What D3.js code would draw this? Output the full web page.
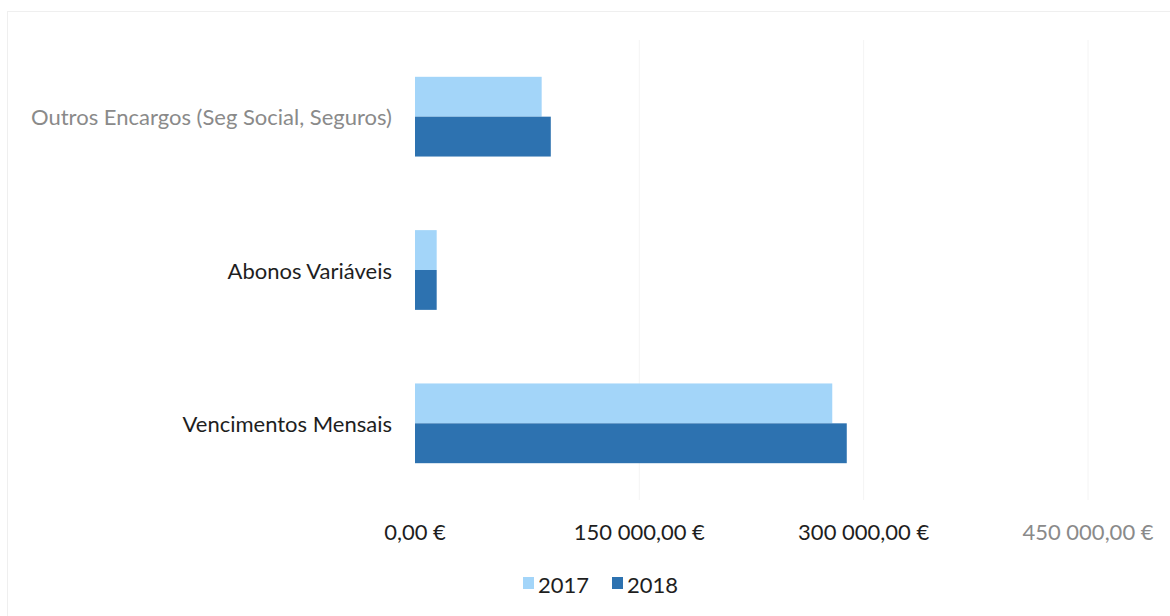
<!DOCTYPE html>
<html><head><meta charset="utf-8">
<script src="https://cdn.jsdelivr.net/npm/d3@7"></script>
<style>html,body{margin:0;padding:0;background:#fff;}svg{display:block;font-family:Lato,"Open Sans",sans-serif;}</style>
</head><body>
<svg id="c" width="1170" height="616"></svg>
<script>
const categories = ["Outros Encargos (Seg Social, Seguros)", "Abonos Variáveis", "Vencimentos Mensais"];
const seriesNames = ["2017", "2018"];
const values2017 = [84700, 14500, 279000];
const values2018 = [90800, 14500, 288700];
const tickValues = [0, 150000, 300000, 450000];
const tickLabels = ["0,00 €", "150 000,00 €", "300 000,00 €", "450 000,00 €"];
const colors = ["#a3d5f9", "#2d72b0"];

const svg = d3.select("#c");
// outer faint border
svg.append("rect").attr("x", 7.5).attr("y", 11.5).attr("width", 1170).attr("height", 610)
  .attr("fill", "none").attr("stroke", "#efefef");

const x = d3.scaleLinear().domain([0, 450000]).range([415, 1088]);
const y = d3.scaleBand().domain(categories).range([40, 500]).paddingInner(0.48).paddingOuter(0.24);
const ySub = d3.scaleBand().domain(seriesNames).range([0, y.bandwidth()]);

// gridlines
svg.append("g").selectAll("line").data(tickValues.slice(1)).join("line")
  .attr("x1", d => x(d)).attr("x2", d => x(d)).attr("y1", 40).attr("y2", 500)
  .attr("stroke", "#f4f4f4").attr("stroke-width", 1);

const data = categories.map((c, i) => ({cat: c, vals: [values2017[i], values2018[i]]}));
const g = svg.append("g");
data.forEach(d => {
  seriesNames.forEach((s, j) => {
    g.append("rect")
      .attr("x", x(0))
      .attr("y", y(d.cat) + ySub(s))
      .attr("width", x(d.vals[j]) - x(0))
      .attr("height", ySub.bandwidth())
      .attr("fill", colors[j]);
  });
});

// y axis labels
const catColors = ["#8a8a8a", "#1e1e1e", "#1e1e1e"];
svg.append("g").selectAll("text").data(categories).join("text")
  .attr("x", 392).attr("y", d => y(d) + y.bandwidth() / 2)
  .attr("text-anchor", "end").attr("dominant-baseline", "central")
  .attr("font-size", 22).attr("fill", (d, i) => catColors[i]).text(d => d);

// x axis labels
const tickColors = ["#1e1e1e", "#1e1e1e", "#1e1e1e", "#8a8a8a"];
svg.append("g").selectAll("text").data(tickValues).join("text")
  .attr("x", d => x(d)).attr("y", 531)
  .attr("text-anchor", "middle").attr("dominant-baseline", "central")
  .attr("font-size", 22).attr("fill", (d, i) => tickColors[i]).text((d, i) => tickLabels[i]);

// legend
const legendX = [523, 612];
const lg = svg.append("g");
seriesNames.forEach((s, j) => {
  lg.append("rect").attr("x", legendX[j]).attr("y", 577).attr("width", 11).attr("height", 12).attr("fill", colors[j]);
  lg.append("text").attr("x", legendX[j] + 15).attr("y", 584).attr("dominant-baseline", "central")
    .attr("font-size", 22).attr("fill", "#1e1e1e").text(s);
});
</script>
</body></html>
